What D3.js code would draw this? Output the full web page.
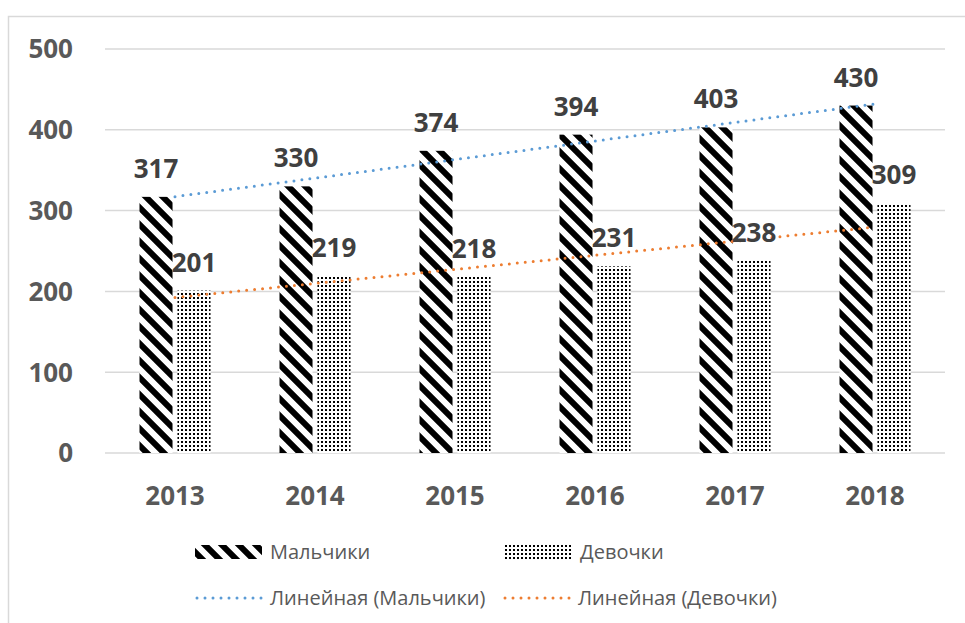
<!DOCTYPE html>
<html>
<head>
<meta charset="utf-8">
<script src="https://cdn.jsdelivr.net/npm/d3@7"></script>
<style>
  body { margin: 0; background: #fff; }
  svg { display: block; }
</style>
</head>
<body>
<svg id="chart" width="965" height="623"></svg>
<script>
let years = ["2013", "2014", "2015", "2016", "2017", "2018"];
let boys = [317, 330, 374, 394, 403, 430];
let girls = [201, 219, 218, 231, 238, 309];
let yTicks = [0, 100, 200, 300, 400, 500];

const svg = d3.select("#chart");
const font = "'Open Sans', Lato, sans-serif";

// patterns for the two series
const defs = svg.append("defs");
const stripes = defs.append("pattern")
    .attr("id", "stripes")
    .attr("patternUnits", "userSpaceOnUse")
    .attr("width", 17).attr("height", 17);
stripes.append("rect").attr("width", 17).attr("height", 17).attr("fill", "#fff");
stripes.append("path")
    .attr("d", "M-4,-4 L21,21 M-4,13 L4,21 M13,-4 L21,4")
    .attr("stroke", "#000").attr("stroke-width", 6);

const dots = defs.append("pattern")
    .attr("id", "dots")
    .attr("patternUnits", "userSpaceOnUse")
    .attr("width", 4).attr("height", 4);
dots.append("rect").attr("width", 4).attr("height", 4).attr("fill", "#fff");
dots.append("rect").attr("x", 1).attr("y", 1).attr("width", 2).attr("height", 2).attr("fill", "#000");

// chart frame
svg.append("rect")
    .attr("x", 8.5).attr("y", 16.5)
    .attr("width", 1000).attr("height", 700)
    .attr("fill", "none").attr("stroke", "#d9d9d9").attr("stroke-width", 1.5);

let x = d3.scaleBand().domain(years).range([105, 945]);
let y = d3.scaleLinear().domain([0, 500]).range([453, 49]);
let inner = d3.scaleBand().domain(["b", "g"]).range([x.bandwidth() / 2 - 35.5, x.bandwidth() / 2 + 35.5]).paddingInner(0.13);

// gridlines
svg.append("g").selectAll("line")
    .data(yTicks)
    .enter().append("line")
    .attr("x1", 105).attr("x2", 945)
    .attr("y1", d => y(d)).attr("y2", d => y(d))
    .attr("stroke", "#d9d9d9").attr("stroke-width", 1.5);

// y labels
svg.append("g").selectAll("text")
    .data(yTicks)
    .enter().append("text")
    .attr("x", 73).attr("y", d => y(d))
    .attr("dy", "0.36em")
    .attr("text-anchor", "end")
    .attr("font-family", font).attr("font-weight", "bold").attr("font-size", 26)
    .attr("fill", "#595959")
    .text(d => d);

// x labels
svg.append("g").selectAll("text")
    .data(years)
    .enter().append("text")
    .attr("x", d => x(d) + x.bandwidth() / 2).attr("y", 505)
    .attr("text-anchor", "middle")
    .attr("font-family", font).attr("font-weight", "bold").attr("font-size", 26)
    .attr("fill", "#595959")
    .text(d => d);

let series = [
    { key: "b", values: boys, fill: "url(#stripes)" },
    { key: "g", values: girls, fill: "url(#dots)" }
];

series.forEach(s => {
    svg.append("g").selectAll("rect")
        .data(s.values)
        .enter().append("rect")
        .attr("x", (d, i) => x(years[i]) + inner(s.key))
        .attr("y", d => y(d))
        .attr("width", inner.bandwidth())
        .attr("height", d => y(0) - y(d))
        .attr("fill", s.fill);
});

// trend lines (least squares over category index)
function trend(vals) {
    let n = vals.length;
    let xs = vals.map((d, i) => i + 1);
    let mx = d3.mean(xs), my = d3.mean(vals);
    let slope = d3.sum(xs, (xi, i) => (xi - mx) * (vals[i] - my)) / d3.sum(xs, xi => (xi - mx) * (xi - mx));
    return [1, n].map(xi => [xi, my + slope * (xi - mx)]);
}
let cx = i => x(years[i - 1]) + x.bandwidth() / 2;
let line = d3.line().x(d => cx(d[0])).y(d => y(d[1]));

svg.append("path").attr("d", line(trend(boys)))
    .attr("fill", "none").attr("stroke", "#5b9bd5").attr("stroke-width", 3)
    .attr("stroke-linecap", "round").attr("stroke-dasharray", "0 8");
svg.append("path").attr("d", line(trend(girls)))
    .attr("fill", "none").attr("stroke", "#ed7d31").attr("stroke-width", 3)
    .attr("stroke-linecap", "round").attr("stroke-dasharray", "0 8");

// data labels
series.forEach(s => {
    svg.append("g").selectAll("text")
        .data(s.values)
        .enter().append("text")
        .attr("x", (d, i) => x(years[i]) + inner(s.key) + inner.bandwidth() / 2)
        .attr("y", d => y(d) - 19)
        .attr("text-anchor", "middle")
        .attr("font-family", font).attr("font-weight", "bold").attr("font-size", 26)
        .attr("fill", "#404040")
        .text(d => d);
});

// legend
let legendItems = [
    { label: "Мальчики", x: 195, y: 552, type: "rect", fill: "url(#stripes)" },
    { label: "Девочки", x: 505, y: 552, type: "rect", fill: "url(#dots)" },
    { label: "Линейная (Мальчики)", x: 195, y: 598, type: "line", stroke: "#5b9bd5" },
    { label: "Линейная (Девочки)", x: 503, y: 598, type: "line", stroke: "#ed7d31" }
];
let lg = svg.append("g").selectAll("g").data(legendItems).enter().append("g");
lg.filter(d => d.type === "rect").append("rect")
    .attr("x", d => d.x).attr("y", d => d.y - 7)
    .attr("width", 67).attr("height", 14)
    .attr("fill", d => d.fill);
lg.filter(d => d.type === "line").append("line")
    .attr("x1", d => d.x + 2).attr("x2", d => d.x + 67)
    .attr("y1", d => d.y).attr("y2", d => d.y)
    .attr("stroke", d => d.stroke).attr("stroke-width", 3)
    .attr("stroke-linecap", "round").attr("stroke-dasharray", "0 8");
lg.append("text")
    .attr("x", d => d.x + 75).attr("y", d => d.y)
    .attr("dy", "0.36em")
    .attr("font-family", font).attr("font-size", 20)
    .attr("fill", "#595959")
    .text(d => d.label);
</script>
</body>
</html>
